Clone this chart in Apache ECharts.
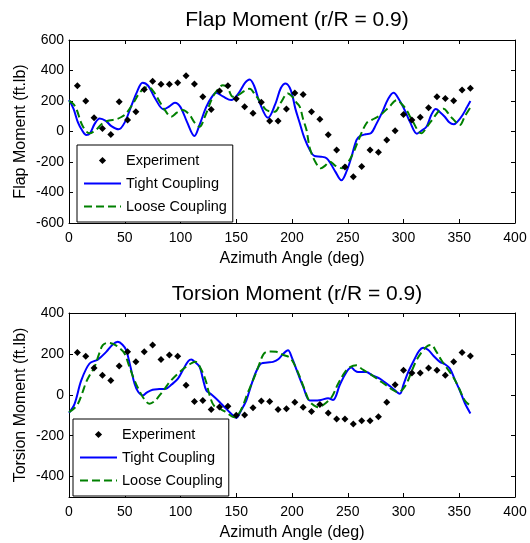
<!DOCTYPE html>
<html>
<head>
<meta charset="utf-8">
<script src="https://cdn.jsdelivr.net/npm/echarts@6/dist/echarts.min.js"></script>
<style>
  html, body { margin: 0; padding: 0; background: #fff; }
  #chart { width: 530px; height: 543px; }
</style>
</head>
<body>
<div id="chart"></div>
<script>
// Azimuth sampling of the measured data (deg)
const expAzimuth = [7.5, 15, 22.5, 30, 37.5, 45, 52.5, 60, 67.5, 75, 82.5, 90, 97.5, 105, 112.5, 120,
  127.5, 135, 142.5, 150, 157.5, 165, 172.5, 180, 187.5, 195, 202.5, 210, 217.5, 225, 232.5, 240,
  247.5, 255, 262.5, 270, 277.5, 285, 292.5, 300, 307.5, 315, 322.5, 330, 337.5, 345, 352.5, 360];

// Flap moment (ft.lb), measured
const flapExperiment = [300, 200, 90, 20, -20, 195, 75, 130, 275, 330, 310, 310, 320, 365, 311, 228,
  145, 265, 300, 215, 162, 119, 191, 69, 69, 147, 252, 243, 130, 80, -22, -121,
  -233, -296, -230, -121, -136, -56, 5, 112, 75, 93, 156, 228, 217, 202, 272, 283];

// Flap moment, tight coupling prediction [azimuth, value]
const flapTight = [[0,206],[4,150],[8,60],[12,5],[15.5,-23],[19,-10],[23,50],[27.5,86],[33,70],[38,35],
  [44.5,14],[50,60],[56,170],[61,260],[66,320],[71,300],[77,220],[85,145],[90,165],[95,188],[100,160],
  [106,60],[112.5,-29],[117,42],[123,160],[128,225],[132,254],[138,230],[145.5,206],[152,250],[158,320],
  [162,341],[166,300],[171,190],[178.5,90],[185,180],[190,285],[194.3,315],[199,270],[203,150],[207,54],
  [211,-40],[216,-121],[220,-160],[226,-165],[231,-175],[235,-215],[239,-265],[244.3,-320],[249,-260],
  [253.4,-165],[257.8,-56],[261,-30],[266,-18],[271,-10],[275,40],[281.5,135],[286,210],[291,254],
  [296,210],[301,141],[306,60],[312,-14],[316,5],[320.6,31],[325,110],[329,147],[333,125],[337,97],
  [341,60],[345,47],[349,70],[353,108],[357,160],[360,200]];

// Flap moment, loose coupling prediction [azimuth, value]
const flapLoose = [[0,200],[4,180],[7,141],[12,40],[18.4,-12],[24,10],[30.3,54],[36,72],[42.4,80],
  [47,95],[51.3,119],[58,190],[64,260],[70.7,293],[76,260],[81.3,195],[86,140],[91.7,97],[97,125],
  [102,141],[108,110],[113,55],[117,31],[122,100],[129,228],[134,280],[138,304],[142,290],[147,228],
  [152,240],[157,265],[162,280],[167,240],[172,190],[177,141],[184.5,130],[190,190],[196.4,250],
  [200,230],[204,190],[207,162],[210,80],[213,10],[216,-110],[221,-200],[226,-241],[230,-222],
  [234,-198],[239,-225],[245,-241],[250,-205],[254.8,-143],[260,-50],[266.8,54],[272,78],[278.7,105],
  [287,160],[294,206],[299,175],[302.7,141],[308,70],[316,-12],[321,30],[326.6,86],[332.6,141],
  [336,150],[340,120],[344,85],[350.5,43],[355,100],[361,170]];

// Torsion moment (ft.lb), measured
const torsionExperiment = [207, 189, 131, 95, 70, 141, 210, 161, 210, 243, 172, 194, 189, 46, -33, -28,
  -72, -60, -56, -100, -99, -64, -31, -33, -72, -68, -36, -61, -82, -48, -89, -118,
  -118, -143, -127, -127, -107, -36, 49, 120, 106, 106, 131, 120, 95, 161, 207, 190];

// Torsion moment, tight coupling prediction [azimuth, value]
const torsionTight = [[0,-88],[5,-44],[11,70],[18.4,153],[25.8,172],[33.4,210],[39,245],[43.8,259],
  [48,245],[51.3,218],[55,140],[58.8,54],[62,15],[66.2,-3],[70,12],[75,25],[81,28],[87,30],[92,50],
  [97.7,79],[103,130],[107,165],[109.7,172],[113,160],[117.2,136],[120,80],[123.2,21],[127,5],
  [130.6,-12],[135,-35],[139.6,-61],[145,-90],[150,-113],[154,-80],[159,-28],[163,40],[168,115],
  [172.5,153],[178,158],[183,161],[188,175],[192,200],[196.4,218],[200,180],[205.4,103],[210,40],
  [215.8,-28],[220,-28],[226,-25],[232.3,-17],[236.8,-25],[243,50],[248.8,111],[253.3,133],[256,120],
  [259.2,111],[263,112],[266.7,111],[272,95],[278.7,79],[284,58],[289.2,37],[296.7,5],[300,50],
  [304.2,111],[310,175],[314,215],[317.6,230],[322,220],[327,190],[332.6,161],[337,150],[341.6,128],
  [346,75],[350.5,21],[355,-40],[360,-91]];

// Torsion moment, loose coupling prediction [azimuth, value]
const torsionLoose = [[0,-85],[4,-70],[7.9,-45],[12,10],[15.4,62],[19,100],[22.9,136],[27,200],
  [30.3,243],[35,254],[40,248],[45,230],[49.8,202],[54,140],[58.8,70],[64,10],[68,-25],[72.3,-44],
  [77,-30],[81.2,-3],[86,30],[90.2,62],[97,100],[104.7,136],[110,155],[113.6,161],[118,130],
  [122.6,70],[126,0],[130,-53],[136,-70],[141,-86],[148.5,-110],[152,-95],[156,-53],[160,5],[165,70],
  [170,140],[174,195],[177,210],[181,212],[186,210],[192,195],[198,182],[202,150],[207,87],[211,30],
  [214.5,-20],[218,-45],[223.5,-61],[228,-50],[235.5,-12],[241,50],[247.5,111],[252,135],[257.8,144],
  [263,125],[269.7,103],[277,75],[284.7,46],[290,25],[295,13],[299,25],[302.7,54],[307,110],
  [311.7,169],[318,220],[322,240],[325,243],[329,215],[334,169],[339,130],[344.5,87],[350,30],
  [355,-28],[361,-58]];

// Axis ticks
const azimuthTicks = [0, 50, 100, 150, 200, 250, 300, 350, 400];
const flapTicks = [-600, -400, -200, 0, 200, 400, 600];
const torsionTicks = [-400, -200, 0, 200, 400];

const FONT = "'Liberation Sans', Arial, Helvetica, sans-serif";
const names = ['Experiment', 'Tight Coupling', 'Loose Coupling'];

function pairs(xs, ys) { return xs.map((x, i) => [x, ys[i]]); }

const axisLineStyle = { lineStyle: { color: '#000', width: 1 } };
function xAxis(gridIndex, position, labelled) {
  return {
    type: 'value', gridIndex, position, min: 0, max: 400, interval: 50,
    axisLine: { show: true, onZero: false, ...axisLineStyle },
    axisTick: { show: true, inside: true, length: 4, lineStyle: { color: '#000' }, customValues: azimuthTicks },
    axisLabel: { show: labelled, color: '#000', fontSize: 14, fontFamily: FONT, margin: 8, customValues: azimuthTicks },
    splitLine: { show: false },
    name: labelled ? 'Azimuth Angle (deg)' : '',
    nameLocation: 'middle', nameGap: 28, nameMoveOverlap: false,
    nameTextStyle: { color: '#000', fontSize: 16, fontFamily: FONT }
  };
}
function yAxis(gridIndex, position, labelled, min, max, ticks, name) {
  return {
    type: 'value', gridIndex, position, min, max, interval: 100,
    axisLine: { show: true, onZero: false, ...axisLineStyle },
    axisTick: { show: true, inside: true, length: 4, lineStyle: { color: '#000' }, customValues: ticks },
    axisLabel: { show: labelled, color: '#000', fontSize: 14, fontFamily: FONT, margin: 5, customValues: ticks },
    splitLine: { show: false },
    name: labelled ? name : '',
    nameLocation: 'middle', nameGap: 40, nameMoveOverlap: false,
    nameTextStyle: { color: '#000', fontSize: 16, fontFamily: FONT }
  };
}

function seriesSet(xi, yi, exp, tight, loose) {
  return [
    // measured points: markers only, the connecting line is hidden
    { name: names[0], type: 'line', xAxisIndex: xi, yAxisIndex: yi, data: exp,
      symbol: 'diamond', symbolSize: 7, showSymbol: true, showAllSymbol: true,
      itemStyle: { color: '#000', opacity: 1 },
      lineStyle: { width: 0, opacity: 0 }, z: 3 },
    { name: names[1], type: 'line', xAxisIndex: xi, yAxisIndex: yi, data: tight,
      smooth: 0.35, showSymbol: false, symbol: 'circle',
      lineStyle: { color: '#0000ff', width: 2 }, itemStyle: { color: '#0000ff', opacity: 0 }, z: 2 },
    { name: names[2], type: 'line', xAxisIndex: xi, yAxisIndex: yi, data: loose,
      smooth: 0.35, showSymbol: false, symbol: 'circle',
      lineStyle: { color: '#008000', width: 2, type: [8, 4] }, itemStyle: { color: '#008000', opacity: 0 }, z: 2 }
  ];
}

function legend(left, top) {
  return {
    data: [
      { name: names[0] },
      { name: names[1], itemStyle: { opacity: 0 } },
      { name: names[2], itemStyle: { opacity: 0 } }
    ],
    orient: 'vertical', left, top,
    padding: [8, 6, 8, 6], itemWidth: 37, itemHeight: 9, itemGap: 8,
    borderColor: '#000', borderWidth: 1, borderRadius: 0, backgroundColor: '#fff',
    selectedMode: false,
    textStyle: { color: '#000', fontSize: 14.5, fontFamily: FONT, lineHeight: 15 }
  };
}

const chart = echarts.init(document.getElementById('chart'), null, { renderer: 'canvas' });
chart.setOption({
  animation: false,
  backgroundColor: '#fff',
  title: [
    { text: 'Flap Moment (r/R = 0.9)', left: 292, top: 5, textAlign: 'center',
      textStyle: { fontSize: 21, fontWeight: 'normal', color: '#000', fontFamily: FONT } },
    { text: 'Torsion Moment (r/R = 0.9)', left: 292, top: 279, textAlign: 'center',
      textStyle: { fontSize: 21, fontWeight: 'normal', color: '#000', fontFamily: FONT } }
  ],
  grid: [
    { left: 69, top: 40, width: 446, height: 183 },
    { left: 69, top: 313, width: 446, height: 184 }
  ],
  xAxis: [xAxis(0, 'bottom', true), xAxis(0, 'top', false), xAxis(1, 'bottom', true), xAxis(1, 'top', false)],
  yAxis: [
    yAxis(0, 'left', true, -600, 600, flapTicks, 'Flap Moment (ft.lb)'),
    yAxis(0, 'right', false, -600, 600, flapTicks, ''),
    yAxis(1, 'left', true, -500, 400, torsionTicks, 'Torsion Moment (ft.lb)'),
    yAxis(1, 'right', false, -500, 400, torsionTicks, '')
  ],
  legend: [legend(77, 145), legend(73, 419)],
  series: [
    ...seriesSet(0, 0, pairs(expAzimuth, flapExperiment), flapTight, flapLoose),
    ...seriesSet(2, 2, pairs(expAzimuth, torsionExperiment), torsionTight, torsionLoose)
  ]
});
</script>
</body>
</html>
